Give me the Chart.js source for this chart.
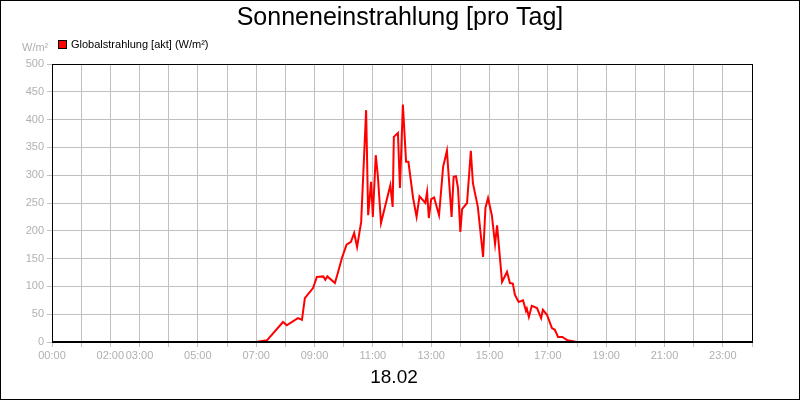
<!DOCTYPE html>
<html><head><meta charset="utf-8">
<script src="https://cdn.jsdelivr.net/npm/chart.js@4"></script>
<style>body{margin:0;background:#fff}#w{width:800px;height:400px}</style>
</head><body><div id="w"><canvas id="c"></canvas></div>
<script>
const hours=[0,7.0,7.37,7.92,8.05,8.43,8.57,8.67,8.95,9.08,9.3,9.37,9.44,9.7,9.8,9.94,10.1,10.25,10.36,10.46,10.6,10.77,10.84,10.94,11.0,11.1,11.17,11.28,11.6,11.68,11.72,11.86,11.93,12.03,12.14,12.22,12.38,12.5,12.6,12.8,12.86,12.92,13.0,13.1,13.27,13.41,13.54,13.7,13.77,13.85,13.92,14.0,14.06,14.23,14.36,14.43,14.6,14.78,14.86,14.95,15.08,15.19,15.26,15.43,15.6,15.7,15.8,15.87,16.0,16.15,16.25,16.28,16.35,16.45,16.63,16.77,16.83,16.97,17.14,17.24,17.35,17.5,17.67,17.99,24];
const values=[0,0,3,36,30,43,40,79,97,117,118,112,118,106,124,151,175,180,196,171,216,417,228,288,225,336,300,214,282,243,369,376,277,427,324,324,259,225,262,250,270,223,257,260,228,315,344,225,297,298,277,198,239,250,344,286,243,153,241,259,228,176,210,108,126,106,105,85,72,75,56,60,45,65,61,43,58,49,25,22,9,9,3,0,0];
const shownHours=[0,2,3,5,7,9,11,13,15,17,19,21,23];
const title='Sonneneinstrahlung [pro Tag]', dateLabel='18.02', seriesName='Globalstrahlung [akt] (W/m²)', unit='W/m²';
const pts=hours.map((h,i)=>({x:h,y:values[i]}));
const F='"Liberation Sans", Arial, sans-serif';
const deco={id:'deco',afterDraw(ch){const c=ch.ctx;const a=ch.chartArea;c.save();
c.strokeStyle='#000';c.lineWidth=1;c.strokeRect(a.left+0.5,a.top+0.5,a.right-a.left,a.bottom-a.top);
c.lineWidth=2;c.beginPath();c.moveTo(a.left,a.bottom);c.lineTo(a.right,a.bottom);c.stroke();
c.lineWidth=1;c.strokeRect(0.5,0.5,799,399);
c.fillStyle='#000';c.textAlign='center';c.textBaseline='middle';
c.font='25px '+F;c.fillText(title,400,18);
c.font='19px '+F;c.fillText(dateLabel,394,378);
c.fillStyle='#f00';c.fillRect(58,40,9,9);c.strokeRect(58.5,40.5,8,8);
c.fillStyle='#000';c.textAlign='left';c.font='11px '+F;c.fillText(seriesName,71,45);
c.fillStyle='#b0b0b0';c.fillText(unit,22,48);
c.restore();}};
new Chart(document.getElementById('c'),{type:'line',
data:{datasets:[{data:pts,borderColor:'#f00',borderWidth:2,pointRadius:0,tension:0,fill:false}]},
options:{responsive:true,maintainAspectRatio:false,animation:false,
layout:{padding:{left:0,top:64,right:48,bottom:0}},
plugins:{legend:{display:false},tooltip:{enabled:false}},
scales:{
x:{type:'linear',min:0,max:24,afterFit:s=>{s.height=58},
 grid:{color:'#c0c0c0',tickLength:5,tickColor:'#c0c0c0'},border:{display:false},
 ticks:{stepSize:1,autoSkip:false,maxRotation:0,color:'#b0b0b0',font:{size:11,family:F},padding:2,
  callback:v=>shownHours.includes(v)?String(v).padStart(2,'0')+':00':''}},
y:{min:0,max:500,afterFit:s=>{s.width=52},
 grid:{color:'#c0c0c0',tickLength:5,tickColor:'#c0c0c0'},border:{display:false},
 ticks:{stepSize:50,color:'#b0b0b0',font:{size:11,family:F},padding:3}}}},
plugins:[deco]});
</script></body></html>
